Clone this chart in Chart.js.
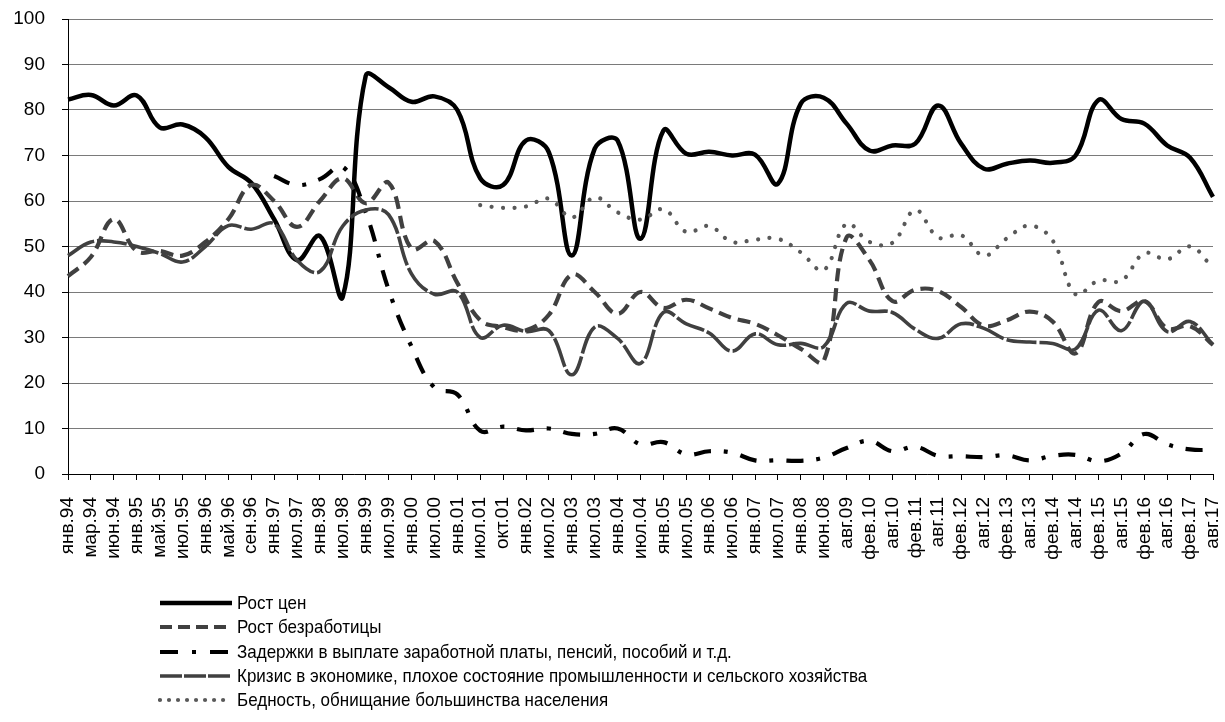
<!DOCTYPE html>
<html>
<head>
<meta charset="utf-8">
<script src="https://cdn.jsdelivr.net/npm/chart.js@4/dist/chart.umd.min.js"></script>
<style>
  html, body { margin: 0; padding: 0; background: #fff; }
  #wrap { position: relative; width: 1225px; height: 722px; overflow: hidden; }
  #c { position: absolute; left: 0; top: 0; }
  #legend { position: absolute; left: 158px; top: 591px; font-family: "Liberation Sans", Arial, sans-serif; font-size: 17px; color: #000; }
  .row { height: 24.3px; line-height: 24px; white-space: nowrap; display: flex; align-items: center; }
  .row svg { width: 76px; height: 10px; flex: none; margin-right: 3px; }
  .row span { display: inline-block; transform: scaleY(1.12); transform-origin: left center; }
</style>
</head>
<body>
<div id="wrap">
  <canvas id="c" width="1225" height="722"></canvas>
  <div id="legend"></div>
</div>
<script>
const categories = ["янв.94","мар.94","июн.94","янв.95","май.95","июл.95","янв.96","май.96","сен.96","янв.97","июл.97","янв.98","июл.98","янв.99","июл.99","янв.00","июл.00","янв.01","июл.01","окт.01","янв.02","июл.02","янв.03","июл.03","янв.04","июл.04","янв.05","июл.05","янв.06","июл.06","янв.07","июл.07","янв.08","июн.08","авг.09","фев.10","авг.10","фев.11","авг.11","фев.12","авг.12","фев.13","авг.13","фев.14","авг.14","фев.15","авг.15","фев.16","авг.16","фев.17","авг.17"];

const seriesNames = [
  "Рост цен",
  "Рост безработицы",
  "Задержки в выплате заработной платы, пенсий, пособий и т.д.",
  "Кризис в экономике, плохое состояние промышленности и сельского хозяйства",
  "Бедность, обнищание большинства населения"
];

const priceGrowth = [82.3,83.3,81,83.2,76.2,76.8,74,67.5,64,56,47,52.3,39,87.5,85,81.8,83,80,65,63.5,73.3,70.7,48,71.5,73.3,51.7,75.5,70.4,70.8,70,70.2,63.8,81.4,82.7,77,71.1,72.2,72.6,81,72.6,67.1,68.2,68.9,68.4,70,82.2,78,77,72.2,69.5,60.9];

const unemployment = [43.5,47.7,56,49,49,48,51,56,63.5,60,54.3,60,65,59.5,64,49.5,51.2,42,33.8,32.3,31.6,35,43.8,40,35.2,40,36.5,38.3,36.4,34.3,33,30.5,27.5,24.8,52,47,38,40.5,40.2,36.7,32.6,33.8,35.7,33.5,26.5,37.8,35.8,38,32,32.5,28.4];

const wageDelays = [null,null,null,null,null,null,null,null,null,65.5,63.5,64.8,67.5,57.5,40.5,28,19,17.5,9.5,10.4,9.6,10,8.8,8.8,10,6.5,7,4.3,5,4.7,3,3,2.9,3.6,5.7,7.3,5,6,4,3.9,3.7,4.1,3,4,4.2,2.8,4.5,8.8,6.5,5.4,5.3];

const economicCrisis = [48,51,51,50,48.5,46.6,50,54.6,53.8,55,47,44.5,54.5,58,57,44,39.5,40,30,32.7,31.3,31.5,21.8,32.3,29.8,24.3,35.5,33,31,27,30.8,28.4,28.7,28,37.5,35.8,35.5,31.8,29.8,33,32,29.5,29,28.7,27.5,36,31.5,38,31.3,33.5,28.4];

const poverty = [null,null,null,null,null,null,null,null,null,null,null,null,null,null,null,null,null,null,59.1,58.5,58.8,60.5,56.4,60.8,57.5,55.9,58.2,53.2,54.5,51,51.5,51.7,48.7,44.8,55,51,50.8,58,52,52.5,48,51.8,54.6,51.3,39.5,42.5,42.5,48.5,47.2,50,45.3];

const yTicks = [0,10,20,30,40,50,60,70,80,90,100];

const styles = [
  { color: "#000000", width: 4.5, dash: [], cap: "butt", order: 5 },
  { color: "#404040", width: 4.2, dash: [13, 7], cap: "butt", order: 4 },
  { color: "#000000", width: 4.2, dash: [17, 13, 4, 13], cap: "butt", order: 3 },
  { color: "#404040", width: 3.6, dash: [30, 3], cap: "butt", order: 2 },
  { color: "#595959", width: 4.2, dash: [0.01, 11.5], cap: "round", order: 1 }
];
const dataArrays = [priceGrowth, unemployment, wageDelays, economicCrisis, poverty];

const datasets = dataArrays.map((arr, i) => ({
  label: seriesNames[i],
  data: arr,
  borderColor: styles[i].color,
  backgroundColor: styles[i].color,
  borderWidth: styles[i].width,
  borderDash: styles[i].dash,
  borderCapStyle: styles[i].cap,
  borderJoinStyle: "round",
  pointRadius: 0,
  pointHoverRadius: 0,
  tension: 0.4,
  fill: false,
  spanGaps: false,
  order: styles[i].order
}));

const FONT = '"Liberation Sans", Arial, sans-serif';

new Chart(document.getElementById("c"), {
  type: "line",
  data: { labels: categories, datasets: datasets },
  options: {
    responsive: false,
    animation: false,
    devicePixelRatio: 1,
    layout: { padding: { top: 19, right: 12, bottom: 138, left: 0 } },
    plugins: { legend: { display: false }, tooltip: { enabled: false } },
    scales: {
      x: {
        offset: false,
        grid: { display: true, drawOnChartArea: false, drawTicks: true, tickLength: 6, tickColor: "#000", tickWidth: 1 },
        border: { display: true, color: "#000", width: 1 },
        ticks: {
          autoSkip: false, maxRotation: 90, minRotation: 90, padding: 17,
          color: "#000", font: { family: FONT, size: 19 }
        },
        afterFit: (s) => { s.height = 110; s.paddingLeft = 0; s.paddingRight = 0; }
      },
      y: {
        min: 0, max: 100,
        afterBuildTicks: (s) => { s.ticks = yTicks.map(v => ({ value: v })); },
        grid: { display: true, color: "#7a7a7a", lineWidth: 1, borderDash: [2, 1], drawTicks: true, tickLength: 6, tickColor: "#000", tickBorderDash: [], tickWidth: 1 },
        border: { display: true, color: "#000", width: 1 },
        ticks: { padding: 17, color: "#000", font: { family: FONT, size: 19 } },
        afterFit: (s) => { s.width = 68; s.paddingTop = 0; s.paddingBottom = 0; }
      }
    }
  }
});

// HTML legend
const legend = document.getElementById("legend");
const svgDash = [[], [12, 6], [18, 14, 4, 14], [22, 2], [0.01, 9]];
seriesNames.forEach((name, i) => {
  const row = document.createElement("div");
  row.className = "row";
  const st = styles[i];
  row.innerHTML =
    '<svg viewBox="0 0 76 10"><line x1="2" y1="5" x2="74" y2="5" stroke="' + st.color +
    '" stroke-width="' + st.width + '" stroke-linecap="' + st.cap + '"' +
    (svgDash[i].length ? ' stroke-dasharray="' + svgDash[i].join(",") + '"' : '') +
    '/></svg><span></span>';
  row.querySelector("span").textContent = name;
  legend.appendChild(row);
});
</script>
</body>
</html>
